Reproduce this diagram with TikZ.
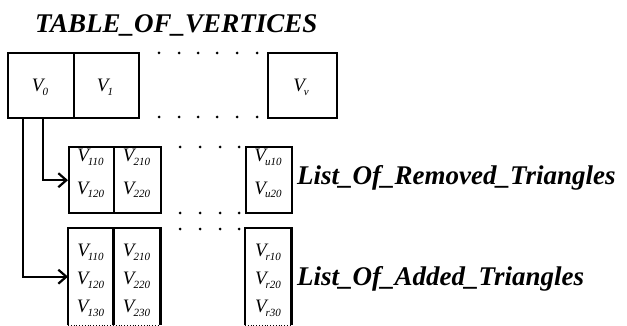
\documentclass[tikz,border=0pt]{standalone}
\usepackage{fontspec}
\setmainfont{Liberation Serif}
\usetikzlibrary{arrows.meta}
\newcommand\cellv[1]{V\kern-1pt\raisebox{-4pt}{\fontsize{11}{11}\selectfont #1}}
\begin{document}
\begin{tikzpicture}[x=1pt,y=-1pt,
  boxline/.style={line width=2.4pt},
  cellbox/.style={boxline,draw,rectangle,inner sep=0pt,anchor=north west},
  cellt/.style={inner sep=0pt,anchor=base,font=\fontsize{19}{22}\selectfont\itshape},
  biglabel/.style={inner sep=0pt,anchor=base west,font=\fontsize{27}{30}\selectfont\bfseries\itshape},
  arr/.style={line width=2.4pt,-{Straight Barb[length=8pt,width=14pt,line width=2.2pt]}},
  dotm/.style={fill=black}]
\useasboundingbox (0,0) rectangle (627,326);
% title
\node[biglabel] (title) at (35,33) {TABLE\_OF\_VERTICES};
% top row
\node[cellbox,minimum width=66pt,minimum height=65pt] (v0) at (7,52) {};
\node[cellbox,minimum width=65pt,minimum height=65pt] (v1) at (73,52) {};
\node[cellbox,minimum width=69pt,minimum height=65pt] (vv) at (267,52) {};
\node[cellt] (tv0) at (40,92) {\cellv{0}};
\node[cellt] (tv1) at (105,92) {\cellv{1}};
\node[cellt] (tvv) at (301,92) {\cellv{v}};
\foreach \x in {159,179,198,217,237,257}{
  \fill[dotm] (\x,53) circle (1.5);
  \fill[dotm] (\x,117) circle (1.5);
}
% removed triangles
\node[cellbox,minimum width=45pt,minimum height=66pt] (c2a) at (68,146) {};
\node[cellbox,minimum width=47pt,minimum height=66pt] (c2b) at (113,146) {};
\node[cellbox,minimum width=46pt,minimum height=66pt] (c2u) at (245,146) {};
\node[cellt] (t110) at (90.5,162) {\cellv{110}};
\node[cellt] (t120) at (90.5,194) {\cellv{120}};
\node[cellt] (t210) at (136.5,162) {\cellv{210}};
\node[cellt] (t220) at (136.5,194) {\cellv{220}};
\node[cellt] (tu10) at (268,162) {\cellv{u10}};
\node[cellt] (tu20) at (268,194) {\cellv{u20}};
\foreach \x in {180,200,220,239}{
  \fill[dotm] (\x,147) circle (1.5);
  \fill[dotm] (\x,213) circle (1.5);
  \fill[dotm] (\x,229) circle (1.5);
}
\node[biglabel] (lrem) at (297,185) {List\_Of\_Removed\_Triangles};
% added triangles
\node[inner sep=0pt,rectangle,anchor=north west,minimum width=45pt,minimum height=97pt] (c3a) at (68,228) {};
\node[inner sep=0pt,rectangle,anchor=north west,minimum width=47pt,minimum height=97pt] (c3b) at (113,228) {};
\node[inner sep=0pt,rectangle,anchor=north west,minimum width=46pt,minimum height=97pt] (c3r) at (245,228) {};
\foreach \n in {c3a,c3b,c3r}{
  \draw[boxline] (\n.south west) -- (\n.north west) -- (\n.north east) -- (\n.south east);
  \draw[dotted,line width=0.8pt] (\n.south west) -- (\n.south east);
}
\node[cellt] (t1a) at (90.5,256) {\cellv{110}};
\node[cellt] (t1b) at (90.5,284) {\cellv{120}};
\node[cellt] (t1c) at (90.5,312) {\cellv{130}};
\node[cellt] (t2a) at (136.5,256) {\cellv{210}};
\node[cellt] (t2b) at (136.5,284) {\cellv{220}};
\node[cellt] (t2c) at (136.5,312) {\cellv{230}};
\node[cellt] (tra) at (268,256) {\cellv{r10}};
\node[cellt] (trb) at (268,284) {\cellv{r20}};
\node[cellt] (trc) at (268,312) {\cellv{r30}};
\node[biglabel] (ladd) at (297,285) {List\_Of\_Added\_Triangles};
% connectors
\draw[arr] ([xshift=16pt]v0.south west) |- (c3a.west);
\draw[arr] ([xshift=36pt]v0.south west) |- (c2a.west);
\end{tikzpicture}
\end{document}
